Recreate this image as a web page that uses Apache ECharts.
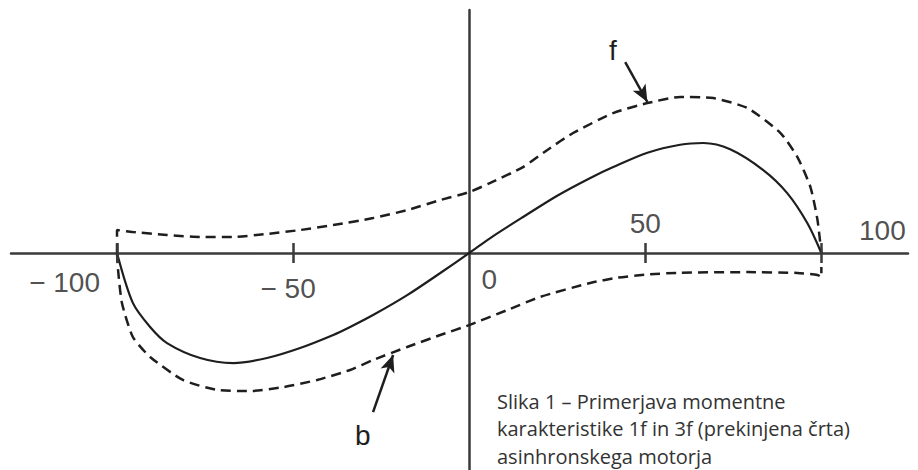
<!DOCTYPE html>
<html>
<head>
<meta charset="utf-8">
<script src="https://cdn.jsdelivr.net/npm/echarts@6/dist/echarts.min.js"></script>
<style>
  html, body { margin: 0; padding: 0; background: #ffffff; }
  #chart { width: 918px; height: 470px; }
</style>
</head>
<body>
<div id="chart"></div>
<script>
// Slip (%) on the horizontal axis, torque (relative units) on the vertical axis.
const slipTicks = [-100, -50, 50, 100];
const tickLabelValues = [-100, -50, 0, 50, 100];
const tickLabelTexts = ['− 100', '− 50', '0', '50', '100'];

// Single-phase motor torque (solid curve)
const torqueSinglePhase = [
  [-100, 0], [-95.5, -23.0], [-90.6, -34.1], [-85.8, -41.5], [-76.4, -48.4],
  [-67.0, -50.7], [-57.4, -48.4], [-48.0, -43.8], [-38.6, -37.8], [-33.8, -34.1],
  [-27.3, -28.6], [-17.6, -19.4], [-8.2, -9.2], [0, 0], [6.0, 6.9],
  [15.3, 16.6], [25.0, 26.4], [34.4, 34.6], [40.9, 39.6], [50.6, 46.2],
  [59.9, 49.9], [66.5, 50.7], [74.1, 47.8], [83.5, 38.2], [90.3, 27.6],
  [96.0, 13.8], [100, 0]
];

// Three-phase torque, forward field "f" (dashed)
const torqueForward = [
  [-100, 0], [-100, 10.6], [-95.5, 9.7], [-85.8, 8.3], [-76.4, 7.4],
  [-67.0, 7.4], [-57.4, 8.8], [-48.0, 10.6], [-38.6, 12.9], [-27.3, 16.1],
  [-17.6, 19.8], [-8.2, 24.4], [0, 28.1], [6.0, 32.3], [15.3, 39.6],
  [22.2, 47.5], [29.5, 55.3], [40.9, 64.5], [50.6, 69.1], [59.9, 71.9],
  [69.3, 71.4], [79.0, 66.8], [88.4, 55.3], [93.2, 44.2], [96.9, 30.4],
  [98.9, 15.2], [100, 0]
];

// Three-phase torque, backward field "b" (dashed)
const torqueBackward = [
  [-100, 0], [-99.7, -7.8], [-98.6, -23.0], [-95.5, -38.7], [-90.6, -47.9],
  [-81.3, -58.5], [-71.6, -63.1], [-62.2, -63.6], [-52.8, -61.8], [-43.2, -58.5],
  [-33.8, -53.9], [-27.3, -49.3], [-17.6, -43.3], [-8.2, -37.8], [0, -33.2],
  [10.8, -26.3], [20.2, -20.2], [34.4, -13.8], [42.0, -11.4], [50.6, -9.9],
  [59.9, -9.1], [79.0, -8.8], [93.2, -9.2], [98.9, -10.1], [100, -11.1], [100, -6.5]
];

// Annotation arrows: [start, tip] in axis units
const arrowF = [[44.3, 88.0], [50.6, 69.6]];
const arrowB = [[-27.3, -73.3], [-21.6, -47.0]];

const ink = '#1e1e1e';
const axisInk = '#3a3a3a';
const labelFont = '"Liberation Sans", Arial, sans-serif';
const tickHalfLength = 4.6; // tick reach above/below the slip axis, in torque units

// Placement of each tick label relative to its tick (pixels)
const tickLabelPlacement = {
  '-100': { pos: [-17, 29], align: 'right' },
  '-50':  { pos: [-5, 35],  align: 'center' },
  '0':    { pos: [20, 26],  align: 'center' },
  '50':   { pos: [0, -30],  align: 'center' },
  '100':  { pos: [61, -23], align: 'center' }
};

const tickLabelData = tickLabelValues.map((v, i) => {
  const p = tickLabelPlacement[String(v)];
  return {
    value: [v, 0],
    label: {
      show: true,
      formatter: tickLabelTexts[i],
      position: p.pos,
      align: p.align,
      verticalAlign: 'middle'
    }
  };
});

function arrowMarkLine(arrow) {
  return {
    silent: true,
    animation: false,
    symbol: ['none', 'arrow'],
    symbolSize: [11, 17],
    label: { show: false },
    lineStyle: { type: 'solid', color: ink, width: 2.5 },
    emphasis: { disabled: true },
    data: [[{ coord: arrow[0] }, { coord: arrow[1] }]]
  };
}

const chart = echarts.init(document.getElementById('chart'), null, { renderer: 'svg' });

chart.setOption({
  animation: false,
  backgroundColor: '#ffffff',
  grid: { left: 11, right: 10, top: 10, bottom: 0 },
  xAxis: {
    type: 'value',
    min: -130.1,
    max: 124.6,
    splitLine: { show: false },
    axisLabel: { show: false },
    axisTick: { show: false },
    axisLine: { show: true, onZero: true, lineStyle: { color: axisInk, width: 2.5 } }
  },
  yAxis: {
    type: 'value',
    min: -100,
    max: 112,
    splitLine: { show: false },
    axisLabel: { show: false },
    axisTick: { show: false },
    axisLine: { show: true, onZero: true, lineStyle: { color: axisInk, width: 2.5 } }
  },
  series: [
    {
      name: '1f',
      type: 'line',
      data: torqueSinglePhase,
      smooth: 0.3,
      symbol: 'none',
      lineStyle: { color: ink, width: 2.2 },
      z: 3
    },
    {
      name: 'f',
      type: 'line',
      data: torqueForward,
      smooth: 0.2,
      symbol: 'none',
      lineStyle: { color: ink, width: 2.5, type: [10, 6] },
      markLine: arrowMarkLine(arrowF),
      z: 3
    },
    {
      name: 'b',
      type: 'line',
      data: torqueBackward,
      smooth: 0.2,
      symbol: 'none',
      lineStyle: { color: ink, width: 2.5, type: [10, 6] },
      markLine: arrowMarkLine(arrowB),
      z: 3
    },
    {
      // crossing tick marks on the slip axis
      name: 'ticks',
      type: 'line',
      data: [],
      silent: true,
      markLine: {
        silent: true,
        animation: false,
        symbol: ['none', 'none'],
        label: { show: false },
        lineStyle: { type: 'solid', color: axisInk, width: 2.5 },
        emphasis: { disabled: true },
        data: slipTicks.map(v => [{ coord: [v, -tickHalfLength] }, { coord: [v, tickHalfLength] }])
      },
      z: 2
    },
    {
      name: 'tick labels',
      type: 'scatter',
      data: tickLabelData,
      symbolSize: 0,
      silent: true,
      label: {
        color: '#222222',
        fontFamily: labelFont,
        fontSize: 28
      },
      z: 4
    }
  ],
  graphic: [
    {
      type: 'text', left: 609, top: 36, silent: true,
      style: { text: 'f', font: '28px ' + labelFont, fill: ink }
    },
    {
      type: 'text', left: 355, top: 421, silent: true,
      style: { text: 'b', font: '28px ' + labelFont, fill: ink }
    },
    {
      type: 'text', left: 497, top: 388, silent: true,
      style: {
        text: 'Slika 1 – Primerjava momentne\nkarakteristike 1f in 3f (prekinjena črta)\nasinhronskega motorja',
        font: '20px "Open Sans", "Noto Sans", sans-serif',
        lineHeight: 27.3,
        fill: '#333333'
      }
    }
  ]
});
</script>
</body>
</html>
